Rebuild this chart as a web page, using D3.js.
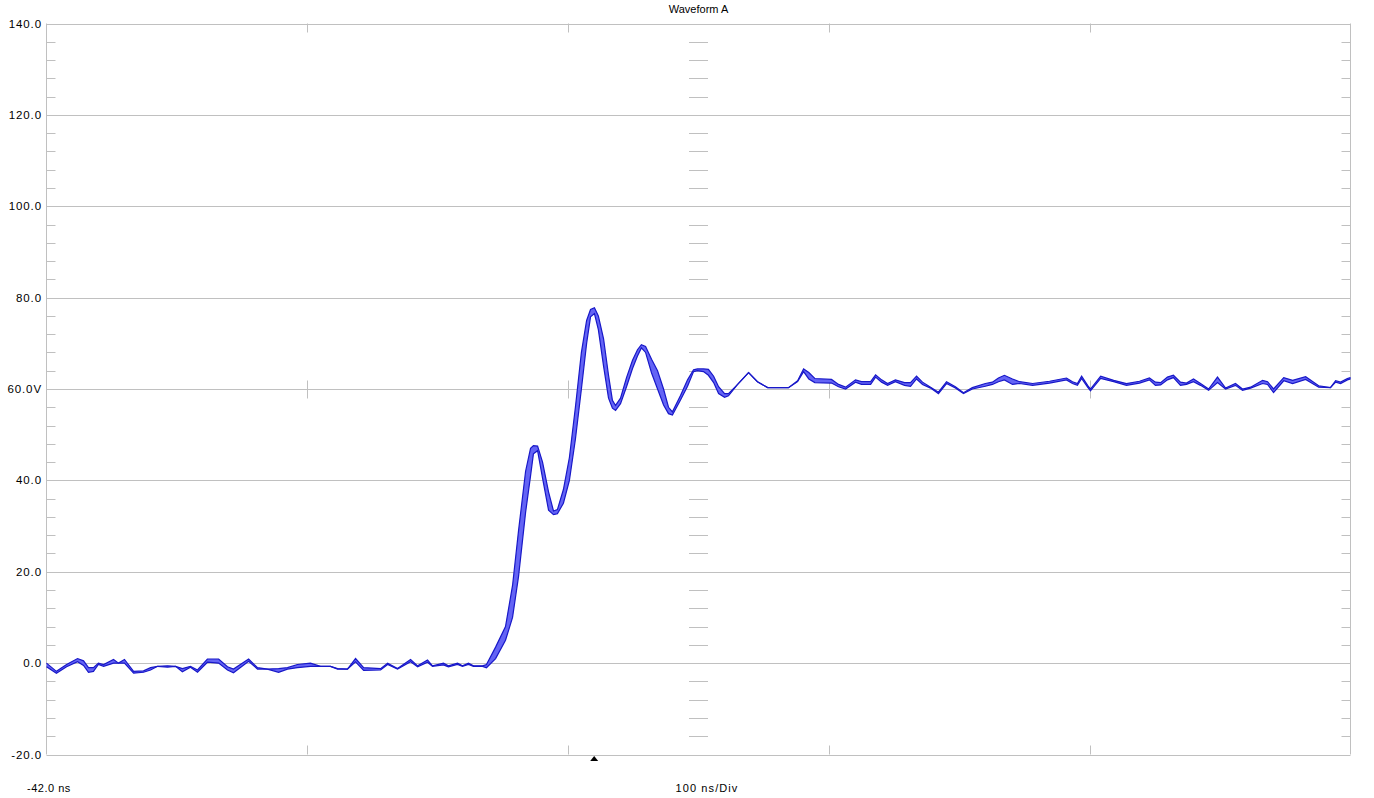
<!DOCTYPE html>
<html>
<head>
<meta charset="utf-8">
<script src="https://cdn.jsdelivr.net/npm/d3@7"></script>
<style>
  html, body { margin: 0; padding: 0; background: #ffffff; }
  svg { display: block; }
  text { font-family: "Liberation Sans", Arial, sans-serif; fill: #000; }
</style>
</head>
<body>
<svg id="chart" width="1374" height="798"></svg>
<script>
// ---- data (time in ns, envelope upper / lower in volts) ----
const timeNs = [
  -42.0,-38.2,-34.3,-30.1,-27.8,-25.9,-24.0,-22.1,-20.1,-16.3,-14.4,-12.1,-8.6,-4.8,-2.1,0.6,4.4,7.5,10.1,13.2,15.9,19.7,24.0,27.4,29.7,35.5,38.9,42.7,47.0,50.4,54.2,59.2,63.1,66.9,69.6,73.4,76.5,79.6,86.1,88.8,92.6,97.6,100.3,104.1,106.0,110.2,112.1,115.6,117.5,119.8,121.7,125.2,126.7,
  130.2,134.0,136.7,139.0,141.7,143.6,144.7,146.3,148.2,150.5,152.4,153.9,156.2,158.5,160.8,163.1,165.1,166.6,168.1,169.6,171.6,173.5,175.0,176.2,178.1,180.4,182.7,184.6,186.1,187.7,190.0,192.3,194.6,196.5,198.0,201.1,203.8,206.1,207.6,209.9,211.8,213.8,215.7,218.0,219.5,223.0,227.2,230.6,234.5,242.5,
  246.0,248.3,250.3,252.6,259.0,261.7,264.4,268.2,270.5,274.0,275.9,278.2,280.5,283.5,287.0,289.3,291.6,293.9,297.0,300.0,303.1,306.5,309.6,313.0,318.0,320.7,323.0,325.3,328.4,331.1,336.1,342.6,349.1,351.4,353.3,354.9,357.2,358.3,362.2,367.2,372.1,377.1,380.9,383.2,385.2,387.8,390.1,392.8,395.1,397.8,400.5,403.6,407.0,410.1,413.9,416.6,419.7,424.3,426.2,428.5,432.4,435.8,440.8,445.8,450.3,452.3,454.2,456.8,458.0
];
const upperV = [
  0,-1.8,-0.3,1.0,0.5,-1.0,-1.0,0,-0.3,0.8,0,0.8,-1.8,-1.7,-1.0,-0.7,-0.6,-0.7,-1.2,-0.7,-1.5,0.9,0.9,-0.8,-1.3,0.9,-1.0,-1.3,-1.2,-1.0,-0.3,0,-0.7,-0.7,-1.2,-1.3,1.0,-1.0,-1.2,0,-1.2,0.8,-0.6,0.7,-0.6,0,-0.6,0,-0.6,0,-0.6,-0.6,-0.3,
  3.5,8,17,29,42,47,47.6,47.5,44,37.5,33.3,33.6,38,45,56,68,75,77.4,77.8,76,71,63,57.5,56.4,58,62.5,66.3,68.6,69.7,69.3,66.5,64,60,56,55,58.6,62,64.2,64.4,64.4,64.3,62.8,60.5,59,59,61,63.6,61.6,60.3,60.3,
  61.8,64.4,63.6,62.3,62.1,61,60.4,62,61.6,61.6,63.1,62,61.2,62,61.4,61.4,62.8,61.5,60.4,59.3,61.6,60.5,59.2,60.3,61.2,61.5,62.4,63,62.2,61.6,61.2,61.7,62.4,61.6,61.2,62.8,60.8,60,62.8,61.9,61.2,61.7,62.4,61.5,61.4,62.6,63,61.5,61.3,62.2,61.2,60,62.6,60.2,61.2,60,60.4,61.9,61.6,60,62.5,61.9,62.7,60.7,60.3,61.8,61.5,62.3,62.5
];
const lowerV = [
  -0.8,-2.2,-0.8,0.3,-0.5,-2.0,-1.8,-0.3,-0.7,0,0,0,-2.2,-2.0,-1.5,-0.7,-0.9,-0.7,-1.9,-0.9,-2.0,0.2,0,-1.5,-2.1,0.4,-1.3,-1.3,-2.0,-1.3,-1.0,-0.7,-0.7,-0.7,-1.3,-1.3,0.3,-1.6,-1.5,-0.3,-1.3,0.3,-0.8,0.2,-0.7,-0.4,-0.8,-0.3,-0.7,-0.3,-0.7,-0.7,-1.0,
  1.0,5,10,19,33,41,45.8,46.5,40.5,33.5,32.5,32.7,35,40,49,60,70,75.8,76.5,73,65,58,55.8,55.3,56.8,60.5,64.5,67.2,69,68,63.5,60,56.5,54.6,54.3,57.6,60.6,63.8,64,63.8,63,61.4,59,58.2,58.5,61,63.6,61.6,60.3,60.3,
  61.6,63.8,62.2,61.4,61.3,60.5,60,61.5,61,61,62.6,61.5,60.8,61.6,60.8,60.6,62.2,61,60.2,59,61.2,60.2,59,60,60.6,61,61.6,62,61,61.2,60.8,61.3,62,61.2,60.8,62.3,60.4,59.6,62.3,61.6,60.8,61.3,62,60.8,60.9,62,62.5,60.8,61,61.6,60.8,59.7,61.4,60,60.8,59.7,60.2,61.2,61,59.2,61.8,61.2,62.1,60.4,60.3,61.5,61.2,62,62.2
];
const yTickValues = [-20, 0, 20, 40, 60, 80, 100, 120, 140];
const yTickLabels = ["-20.0", "0.0", "20.0", "40.0", "60.0V", "80.0", "100.0", "120.0", "140.0"];
const xDivisions = [-42, 58, 158, 258, 358, 458];
const titleText = "Waveform A";
const xStartLabel = "-42.0 ns";
const xScaleLabel = "100 ns/Div";
const triggerTime = 168;

// ---- layout ----
const svg = d3.select("#chart");
const L = 46.5, R = 1350.5, T = 23.5, B = 754.5;
const x = d3.scaleLinear().domain([-42, 458]).range([L, R]);
const y = d3.scaleLinear().domain([-20, 140]).range([B, T]);
const grid = "#c0c0c0";

const data = timeNs.map((t, i) => ({ t, hi: upperV[i], lo: lowerV[i] }));

// horizontal gridlines
svg.append("g").selectAll("line").data(yTickValues).join("line")
  .attr("x1", L).attr("x2", R)
  .attr("y1", d => Math.round(y(d)) + 0.5).attr("y2", d => Math.round(y(d)) + 0.5)
  .attr("stroke", grid).attr("stroke-width", 1);

// left/right frame
svg.append("line").attr("x1", L).attr("x2", L).attr("y1", T).attr("y2", B).attr("stroke", grid);
svg.append("line").attr("x1", R).attr("x2", R).attr("y1", T).attr("y2", B).attr("stroke", grid);

// minor ticks (every 4 V)
const minor = d3.range(-20, 140.001, 4).filter(v => Math.abs(v % 20) > 0.001);
const cx = (L + R) / 2;
const mt = svg.append("g").attr("stroke", grid);
minor.forEach(v => {
  const yy = Math.round(y(v)) + 0.5;
  mt.append("line").attr("x1", L).attr("x2", L + 9).attr("y1", yy).attr("y2", yy);
  mt.append("line").attr("x1", R - 9).attr("x2", R).attr("y1", yy).attr("y2", yy);
  mt.append("line").attr("x1", cx - 9.5).attr("x2", cx + 9.5).attr("y1", yy).attr("y2", yy);
});

// division ticks
const y60 = Math.round(y(60)) + 0.5;
xDivisions.slice(1, -1).forEach(t => {
  const xx = Math.round(x(t)) + 0.5;
  mt.append("line").attr("x1", xx).attr("x2", xx).attr("y1", T).attr("y2", T + 9);
  mt.append("line").attr("x1", xx).attr("x2", xx).attr("y1", B - 9).attr("y2", B);
  mt.append("line").attr("x1", xx).attr("x2", xx).attr("y1", y60 - 9).attr("y2", y60 + 9);
});

// y labels
svg.append("g").selectAll("text").data(yTickValues).join("text")
  .attr("x", 42).attr("y", d => y(d) + 4)
  .attr("text-anchor", "end")
  .style("font-size", "11.5px").style("letter-spacing", "0.9px")
  .text((d, i) => yTickLabels[i]);

// title and x labels
svg.append("text").attr("x", cx).attr("y", 13).attr("text-anchor", "middle")
  .style("font-size", "11px").text(titleText);
svg.append("text").attr("x", 27).attr("y", 792)
  .style("font-size", "11px").style("letter-spacing", "0.5px").text(xStartLabel);
svg.append("text").attr("x", 707).attr("y", 792).attr("text-anchor", "middle")
  .style("font-size", "11px").style("letter-spacing", "1.1px").text(xScaleLabel);

// trigger marker
const tx = x(triggerTime);
svg.append("path")
  .attr("d", `M${tx - 4},761 L${tx + 4},761 L${tx},756 Z`)
  .attr("fill", "#000");

// envelope band
const area = d3.area().x(d => x(d.t)).y0(d => y(d.lo)).y1(d => y(d.hi));
svg.append("path").datum(data).attr("d", area)
  .attr("fill", "#6464f5").attr("stroke", "none");
const lineHi = d3.line().x(d => x(d.t)).y(d => y(d.hi));
const lineLo = d3.line().x(d => x(d.t)).y(d => y(d.lo));
svg.append("path").datum(data).attr("d", lineHi)
  .attr("fill", "none").attr("stroke", "#1818c8").attr("stroke-width", 1.2);
svg.append("path").datum(data).attr("d", lineLo)
  .attr("fill", "none").attr("stroke", "#1818c8").attr("stroke-width", 1.2);
</script>
</body>
</html>
